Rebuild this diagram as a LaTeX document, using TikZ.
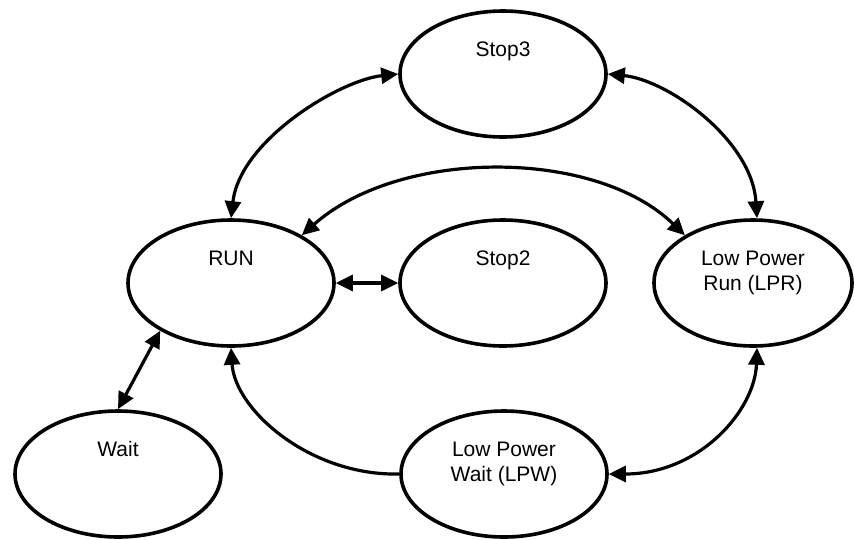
\documentclass[tikz,border=0pt]{standalone}
\usepackage{fontspec}
\setmainfont{Liberation Sans}
\usetikzlibrary{shapes.geometric,arrows.meta,calc}
\begin{document}
\begin{tikzpicture}[x=1pt,y=-1pt,
  state/.style={ellipse,draw,line width=3.6pt,minimum width=206pt,minimum height=126pt,inner sep=0pt},
  txt/.style={font=\fontsize{21}{25}\selectfont,align=center,inner sep=0pt,anchor=north},
  tip/.style={Triangle[length=17pt,width=16pt]},
  conn/.style={line width=3.2pt,{Triangle[length=17pt,width=16pt]}-{Triangle[length=17pt,width=16pt]}},
  conn1/.style={line width=3.2pt,-{Triangle[length=17pt,width=16pt]}}]
\useasboundingbox (0,0) rectangle (854,539);
\node[state] (stop3) at (503,74) {};
\node[state] (run) at (231,283) {};
\node[state] (stop2) at (503,283) {};
\node[state,minimum width=198pt] (lpr) at (753,283) {};
\node[state] (wait) at (118,474) {};
\node[state] (lpw) at (504,474) {};
\node[txt] (t1) at ($(stop3.center)+(0,-32.5)$) {Stop3};
\node[txt] (t2) at ($(run.center)+(0,-32.5)$) {RUN};
\node[txt] (t3) at ($(stop2.center)+(0,-32.5)$) {Stop2};
\node[txt] (t4) at ($(lpr.center)+(0,-32.5)$) {Low Power\\Run (LPR)};
\node[txt] (t5) at ($(wait.center)+(0,-32.5)$) {Wait};
\node[txt] (t6) at ($(lpw.center)+(0,-32.5)$) {Low Power\\Wait (LPW)};
\draw[conn] (stop3.west) .. controls (340,80) and (240,140) .. (run.north);
\draw[conn] (stop3.east) .. controls (668,80) and (752,140) .. ([xshift=4pt]lpr.north);
\draw[conn] (run.34) .. controls (400,148) and (595,148) .. (lpr.145);
\draw[conn] (run.east) -- (stop2.west);
\draw[conn] (run.214) -- (wait.north);
\draw[conn1] (lpw.west) .. controls (310,476) and (235,410) .. (run.south);
\draw[conn] (lpw.east) .. controls (700,474) and (755,410) .. ([xshift=4pt]lpr.south);
\end{tikzpicture}
\end{document}
